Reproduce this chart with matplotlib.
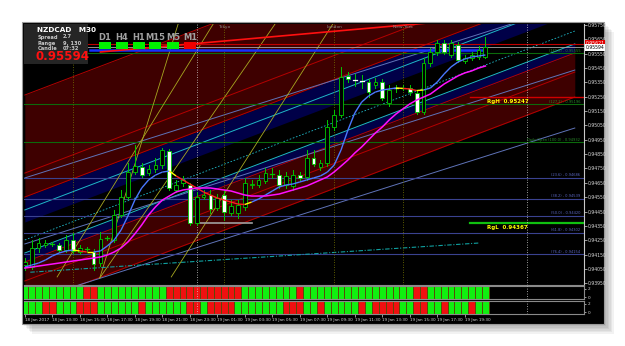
import numpy as np
import matplotlib.pyplot as plt
from matplotlib.patches import Rectangle
from matplotlib.collections import LineCollection

W, H = 625, 346

# NZDCAD M30, bar 0 = 18 Jan 11:30
opens = [0.94077, 0.94063, 0.94196, 0.94217, 0.94224, 0.94217, 0.94182, 0.94252, 0.94168, 0.94189,
         0.94168, 0.94091, 0.94266, 0.94252, 0.94426, 0.94551, 0.94725, 0.94760, 0.94718, 0.94746,
         0.94774, 0.94872, 0.94600, 0.94649, 0.94635, 0.94370, 0.94551, 0.94565, 0.94475, 0.94565,
         0.94440, 0.94440, 0.94482, 0.94635, 0.94635, 0.94663, 0.94712, 0.94705, 0.94635, 0.94628,
         0.94705, 0.94690, 0.94823, 0.94760, 0.94788, 0.95039, 0.95123, 0.95395, 0.95367, 0.95360,
         0.95353, 0.95332, 0.95353, 0.95206, 0.95311, 0.95311, 0.95311, 0.95276, 0.95144, 0.95485,
         0.95562, 0.95625, 0.95541, 0.95611, 0.95499, 0.95520, 0.95527, 0.95527]
highs = [0.94126, 0.94252, 0.94266, 0.94252, 0.94238, 0.94231, 0.94286, 0.94300, 0.94217, 0.94203,
         0.94189, 0.94307, 0.94280, 0.94461, 0.94600, 0.94788, 0.94914, 0.94788, 0.94774, 0.94823,
         0.94893, 0.94886, 0.94670, 0.94698, 0.94649, 0.94586, 0.94600, 0.94600, 0.94572, 0.94600,
         0.94530, 0.94530, 0.94684, 0.94670, 0.94705, 0.94753, 0.94753, 0.94739, 0.94725, 0.94739,
         0.94725, 0.94879, 0.94879, 0.94809, 0.95088, 0.95158, 0.95458, 0.95423, 0.95409, 0.95402,
         0.95374, 0.95381, 0.95374, 0.95332, 0.95332, 0.95332, 0.95332, 0.95297, 0.95520, 0.95590,
         0.95646, 0.95646, 0.95646, 0.95632, 0.95541, 0.95562, 0.95604, 0.95666]
lows = [0.94042, 0.94049, 0.94168, 0.94203, 0.94210, 0.94168, 0.94168, 0.94161, 0.94154, 0.94175,
        0.94042, 0.94070, 0.94252, 0.94238, 0.94412, 0.94537, 0.94712, 0.94690, 0.94704, 0.94725,
        0.94753, 0.94600, 0.94586, 0.94628, 0.94356, 0.94356, 0.94537, 0.94440, 0.94461, 0.94391,
        0.94426, 0.94405, 0.94461, 0.94614, 0.94621, 0.94649, 0.94684, 0.94614, 0.94614, 0.94600,
        0.94670, 0.94670, 0.94767, 0.94739, 0.94767, 0.95018, 0.95109, 0.95353, 0.95325, 0.95311,
        0.95249, 0.95311, 0.95227, 0.95185, 0.95283, 0.95297, 0.95262, 0.95130, 0.95130, 0.95464,
        0.95541, 0.95548, 0.95527, 0.95492, 0.95485, 0.95506, 0.95513, 0.95520]
closes = [0.94098, 0.94196, 0.94231, 0.94231, 0.94225, 0.94182, 0.94252, 0.94175, 0.94196, 0.94190,
          0.94084, 0.94259, 0.94267, 0.94426, 0.94551, 0.94725, 0.94767, 0.94704, 0.94746, 0.94774,
          0.94879, 0.94614, 0.94635, 0.94670, 0.94370, 0.94551, 0.94565, 0.94468, 0.94544, 0.94447,
          0.94489, 0.94496, 0.94649, 0.94642, 0.94670, 0.94718, 0.94712, 0.94635, 0.94698, 0.94705,
          0.94684, 0.94823, 0.94781, 0.94788, 0.95039, 0.95123, 0.95388, 0.95374, 0.95366, 0.95359,
          0.95283, 0.95353, 0.95241, 0.95297, 0.95310, 0.95312, 0.95283, 0.95144, 0.95485, 0.95562,
          0.95625, 0.95562, 0.95625, 0.95506, 0.95520, 0.95541, 0.95576, 0.95594]

fast_ma = [0.94063, 0.94077, 0.94091, 0.94112, 0.94140, 0.94161, 0.94175, 0.94182, 0.94175, 0.94168,
           0.94168, 0.94175, 0.94210, 0.94252, 0.94321, 0.94419, 0.94530, 0.94614, 0.94670, 0.94704,
           0.94725, 0.94732, 0.94698, 0.94670, 0.94642, 0.94614, 0.94586, 0.94565, 0.94544, 0.94530,
           0.94516, 0.94502, 0.94499, 0.94516, 0.94537, 0.94565, 0.94593, 0.94621, 0.94635, 0.94642,
           0.94656, 0.94670, 0.94684, 0.94698, 0.94725, 0.94774, 0.94879, 0.95018, 0.95137, 0.95213,
           0.95255, 0.95283, 0.95297, 0.95304, 0.95311, 0.95308, 0.95304, 0.95293, 0.95297, 0.95311,
           0.95353, 0.95409, 0.95458, 0.95492, 0.95513, 0.95527, 0.95534, 0.95541]
slow_ma = [0.94056, 0.94063, 0.94070, 0.94077, 0.94084, 0.94091, 0.94098, 0.94105, 0.94112, 0.94119,
           0.94126, 0.94133, 0.94147, 0.94168, 0.94196, 0.94238, 0.94294, 0.94356, 0.94426, 0.94482,
           0.94530, 0.94558, 0.94586, 0.94600, 0.94607, 0.94614, 0.94614, 0.94614, 0.94607, 0.94600,
           0.94593, 0.94579, 0.94565, 0.94558, 0.94558, 0.94558, 0.94565, 0.94572, 0.94586, 0.94600,
           0.94614, 0.94628, 0.94649, 0.94670, 0.94691, 0.94726, 0.94767, 0.94809, 0.94858, 0.94900,
           0.94949, 0.94998, 0.95039, 0.95088, 0.95130, 0.95165, 0.95200, 0.95227, 0.95248, 0.95269,
           0.95304, 0.95339, 0.95367, 0.95395, 0.95416, 0.95430, 0.95450, 0.95464]

# indicator strips, one cell per bar
strip_top = "GGGGGGGGGRRGGGGGGGGGGRRRRRRRRRRRGGGGGGGGRGGGGGGGGGGGGGGGGRRGGGGGGGGG"
strip_bot = "GGGRRGGGRRRGGGGGGRGGGGGGRRGRRRRGGGGGGGRRRGGRGGGGGRGRRRRGGRRGGRGGGRGG"

time_labels = ["18 Jan 2017", "18 Jan 13:30", "18 Jan 15:30", "18 Jan 17:30", "18 Jan 19:30",
               "18 Jan 21:30", "18 Jan 23:30", "19 Jan 01:30", "19 Jan 03:30", "19 Jan 05:30",
               "19 Jan 07:30", "19 Jan 09:30", "19 Jan 11:30", "19 Jan 13:30", "19 Jan 15:30",
               "19 Jan 17:30", "19 Jan 19:30"]
price_ticks = [0.93950, 0.94050, 0.94150, 0.94250, 0.94350, 0.94450, 0.94550, 0.94650, 0.94750,
               0.94850, 0.94950, 0.95050, 0.95150, 0.95250, 0.95350, 0.95450, 0.95550, 0.95650, 0.95750]

fib_names = ["(161.8)", "(127.2)", "Daily Open (100.0)", "(23.6)", "(38.2)", "(50.0)", "(61.8)", "(76.4)"]
fib_prices = [0.95555, 0.95196, 0.94932, 0.94686, 0.94539, 0.94420, 0.94302, 0.94154]

bid, day_high = 0.95594, 0.95621
range_high, range_low = 0.95247, 0.94367

# channel lines: price at bar 0 and at bar 80
chan_x = [0, 80]
red_lines = [[0.95262, 0.96719], [0.94718, 0.96175], [0.94551, 0.96008],
             [0.94098, 0.95555], [0.93966, 0.95422], [0.93792, 0.95248]]
cyan_lines = [[0.94461, 0.95917], [0.94161, 0.95618]]
center_line = [0.94252, 0.95708]
steel_lines = [[0.93819, 0.95032], [0.94224, 0.95436], [0.94684, 0.95897]]
darkred_bands = [([0.95262, 0.96719], [0.94551, 0.96008]), ([0.94098, 0.95555], [0.93792, 0.95248])]
navy_bands = [([0.94551, 0.96008], [0.94377, 0.95834]), ([0.94161, 0.95618], [0.94098, 0.95555])]

yellow_lines = [((4.7, 0.93994), (27.4, 0.95757)), ((10.9, 0.93987), (22.3, 0.95757)),
                ((10.9, 0.93987), (36.4, 0.95757)), ((21.3, 0.93994), (44.8, 0.95757))]
teal_line = ((0.8, 0.94027), (66.2, 0.94231))

session_bars = [7, 29, 45, 55]
session_names = ["", "Tokyo", "London", "New York"]
day_bars = [25, 73]

tf_names = ["D1", "H4", "H1", "M15", "M5", "M1"]
tf_state = ["up", "up", "up", "up", "up", "down"]

n = len(opens)
x = np.arange(n)
xlim = (-0.12, 81.34)
ylim = (0.939379, 0.957570)


def fpos(px, py):
    return px / W, 1 - py / H


fig = plt.figure(figsize=(W / 100, H / 100), dpi=100, facecolor='white')

# window shadow and frame (behind the axes)
for k in range(6):
    fig.patches.append(Rectangle(fpos(24 + k * 1.5, 326 + k * 1.5), 582 / W, 302 / H,
                                 transform=fig.transFigure, facecolor='black',
                                 alpha=0.05, edgecolor='none', zorder=-3))
fig.patches.append(Rectangle(fpos(22, 324), 582 / W, 302 / H, transform=fig.transFigure,
                             facecolor='black', edgecolor='#9a9a9a', lw=0.8, zorder=-2))

ax = fig.add_axes([24 / W, 1 - 285 / H, 560 / W, 261 / H], facecolor='black')
s1 = fig.add_axes([24 / W, 1 - 299 / H, 560 / W, 13 / H], facecolor='black')
s2 = fig.add_axes([24 / W, 1 - 314 / H, 560 / W, 13 / H], facecolor='black')

ax.set_xlim(xlim)
ax.set_ylim(ylim)

# channel fills
for top, bot in darkred_bands:
    ax.fill_between(chan_x, top, bot, color='#3e0000', lw=0, zorder=0)
for top, bot in navy_bands:
    ax.fill_between(chan_x, top, bot, color='#000048', lw=0, zorder=0)
for ln in red_lines:
    ax.plot(chan_x, ln, color='#b40000', lw=0.7, zorder=1)
for ln in cyan_lines:
    ax.plot(chan_x, ln, color='#1fb8c8', lw=0.7, zorder=1)
ax.plot(chan_x, center_line, color='#1fb8c8', lw=0.6, ls=(0, (2, 2)), zorder=1)
for ln in steel_lines:
    ax.plot(chan_x, ln, color='#5f73b8', lw=0.7, zorder=1)

# fib levels
for name, p in zip(fib_names, fib_prices):
    c = '#0c6a0c' if p > 0.9490 else '#3a4290'
    tc = '#2a8a2a' if p > 0.9490 else '#5a66c0'
    ax.axhline(p, color=c, lw=0.8, zorder=1)
    ax.text(80.8, p + 0.00003, f"{name} - {p:.5f}", color=tc, fontsize=2.6,
            ha='right', va='bottom', zorder=6)

ax.axhline(day_high, color='#c00000', lw=0.8, zorder=2)
ax.axhline(bid, color='#a8a8a8', lw=0.6, zorder=2)
ax.plot([9.5, 67], [0.95576, 0.95576], color='#1530ff', lw=1.8, zorder=2)
ax.plot([64.8, xlim[1]], [range_high, range_high], color='#d00000', lw=1.0, zorder=2)
ax.plot([64.8, xlim[1]], [range_low, range_low], color='#10c010', lw=1.6, zorder=2)
ax.plot([25, 33], [range_low, range_low], color='#a0a0a0', lw=1.2, zorder=2)
ax.text(67.2, range_high - 0.00012, f"RgH  {range_high:.5f}", color='#ffff00', fontsize=4,
        fontweight='bold', va='top', zorder=7)
ax.text(67.2, range_low - 0.00012, f"RgL  {range_low:.5f}", color='#ffff00', fontsize=4,
        fontweight='bold', va='top', zorder=7)

# top session trend line
ax.plot([11, 60], [0.95562, 0.95770], color='#ff1010', lw=1.2, zorder=2)

for (x0, y0), (x1, y1) in yellow_lines:
    ax.plot([x0, x1], [y0, y1], color='#a8a820', lw=0.6, zorder=1)
ax.plot([teal_line[0][0], teal_line[1][0]], [teal_line[0][1], teal_line[1][1]],
        color='#10a0a0', lw=0.8, ls=(0, (4, 1.5, 1, 1.5)), zorder=1)

for b, name in zip(session_bars, session_names):
    ax.axvline(b, color='#7a7a00', lw=0.6, ls=(0, (1, 2)), zorder=1)
    if name:
        ax.text(b, ylim[1] - 0.00008, name, color='#8c8c8c', fontsize=3.2, ha='center', va='top')
for axx in (ax, s1, s2):
    for b in day_bars:
        axx.axvline(b, color='#d0d0d0', lw=0.6, ls=(0, (1, 2)), zorder=3)

# candles
green = '#00c800'
for i in range(n):
    o, h, l, c = opens[i], highs[i], lows[i], closes[i]
    ax.plot([i, i], [l, h], color=green, lw=0.7, zorder=4)
    lo, hi = min(o, c), max(o, c)
    face = 'black' if c >= o else 'white'
    if hi - lo < 0.00003:
        ax.plot([i - 0.3, i + 0.3], [c, c], color='white' if c < o else green, lw=0.9, zorder=4)
    else:
        ax.add_patch(Rectangle((i - 0.28, lo), 0.56, hi - lo, facecolor=face,
                               edgecolor=green, lw=0.6, zorder=4))

# coloured fast average
pts = np.column_stack([x, fast_ma])
segs = np.stack([pts[:-1], pts[1:]], axis=1)
cols = []
prev = None
for j in range(n - 1):
    up = fast_ma[j + 1] >= fast_ma[j]
    if prev is not None and up != prev:
        cols.append('#ffff00')
    else:
        cols.append('#4a78ff' if up else '#ff2020')
    prev = up
ax.add_collection(LineCollection(segs, colors=cols, lw=1.0, zorder=5))
ax.plot(x, slow_ma, color='#ff10ff', lw=1.1, zorder=5)

# price axis
ax.yaxis.tick_right()
ax.set_yticks(price_ticks)
ax.set_yticklabels([f"{p:.5f}" for p in price_ticks])
ax.tick_params(axis='y', colors='#d8d8d8', labelsize=3.3, length=2, width=0.5, pad=1)
ax.set_xticks([])
for sp in ax.spines.values():
    sp.set_visible(False)
ax.spines['right'].set_visible(True)
ax.spines['right'].set_color('#c8c8c8')
ax.spines['bottom'].set_visible(True)
ax.spines['bottom'].set_color('#8a8a8a')

for lab, p, fc, tc in [("0.95621", day_high, '#e00000', 'white'), ("0.95594", bid, 'white', 'black')]:
    ax.text(1.003, p, lab, transform=ax.get_yaxis_transform(), fontsize=3.3, color=tc,
            va='center', ha='left', bbox=dict(boxstyle='square,pad=0.15', fc=fc, ec='none'), zorder=8)

# indicator strips
for sax, strip in ((s1, strip_top), (s2, strip_bot)):
    sax.set_xlim(xlim)
    sax.set_ylim(0, 1)
    cols = ['#10f010' if c == 'G' else '#f01010' for c in strip]
    sax.bar(np.arange(len(strip)), 1, width=1.0, bottom=0, color=cols,
            edgecolor='#5a4a08', lw=0.7, align='center')
    sax.yaxis.tick_right()
    sax.set_yticks([0.15, 0.8])
    sax.set_yticklabels(["0", "2"])
    sax.tick_params(axis='y', colors='#d8d8d8', labelsize=3, length=1.5, width=0.5, pad=1)
    for sp in sax.spines.values():
        sp.set_color('#8a8a8a')
        sp.set_linewidth(0.8)
    sax.spines['left'].set_visible(False)
s1.set_xticks([])
s2.set_xticks(np.arange(0, 4 * len(time_labels), 4))
s2.set_xticklabels(time_labels)
s2.tick_params(axis='x', colors='#d8d8d8', labelsize=3, length=2, width=0.5, pad=1)
for t in s2.get_xticklabels():
    t.set_ha('left')

# info panel
fig.patches.append(Rectangle(fpos(24, 64), 64 / W, 40 / H, transform=fig.transFigure,
                             facecolor='#252525', edgecolor='none', zorder=10))
fig.text(*fpos(37, 30), "NZDCAD   M30", color='white', fontsize=5.2, fontweight='bold',
         va='center', zorder=11)
for k, (a, b) in enumerate([("Spread", "2.7"), ("Range", "9, 130"), ("Candle", "07:32")]):
    fig.text(*fpos(38, 37 + k * 6), a, color='#c8c8c8', fontsize=3.7, fontweight='bold', va='center', zorder=11)
    fig.text(*fpos(63, 37 + k * 6), b, color='#c8c8c8', fontsize=3.7, fontweight='bold', va='center', zorder=11)
fig.text(*fpos(36, 57), f"{bid:.5f}", color='#ff1010', fontsize=8.5, fontweight='bold',
         va='center', zorder=11)

# timeframe boxes
tf_x = [99, 116, 133, 149, 167, 184]
for px, name, st in zip(tf_x, tf_names, tf_state):
    fig.text(*fpos(px + 6, 37), name, color='#a0a0a0', fontsize=6, fontweight='bold',
             ha='center', va='center', zorder=11)
    fig.patches.append(Rectangle(fpos(px, 49), 12 / W, 7 / H, transform=fig.transFigure,
                                 facecolor='#00f000' if st == 'up' else '#f00000',
                                 edgecolor='none', zorder=11))

fig.savefig('out.png', dpi=100, facecolor='white')
